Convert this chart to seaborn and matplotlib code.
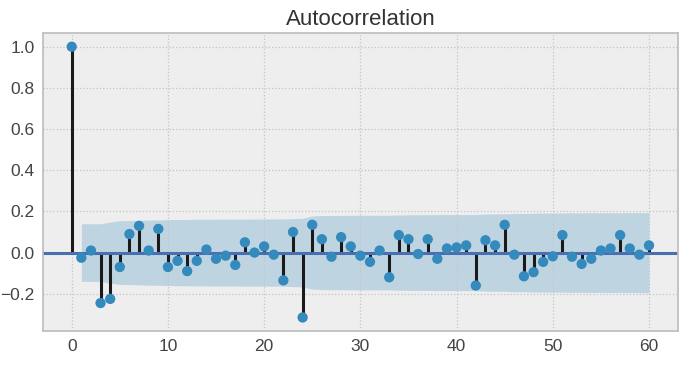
import numpy as np
import pandas as pd
import seaborn as sns
import matplotlib.pyplot as plt

# valores de autocorrelacao (lags 0..60)
lags = list(range(61))
acf_vals = [
    1.0, -0.025, 0.01, -0.245, -0.225, -0.07, 0.09, 0.13, 0.01, 0.115,
    -0.07, -0.04, -0.09, -0.04, 0.015, -0.03, -0.015, -0.06, 0.05, 0.0,
    0.03, -0.01, -0.135, 0.10, -0.315, 0.135, 0.065, -0.02, 0.075, 0.03,
    -0.015, -0.045, 0.01, -0.12, 0.085, 0.065, -0.007, 0.065, -0.03, 0.02,
    0.025, 0.035, -0.16, 0.06, 0.035, 0.135, -0.01, -0.115, -0.095, -0.045,
    -0.018, 0.085, -0.02, -0.055, -0.03, 0.01, 0.02, 0.085, 0.02, -0.01,
    0.035,
]
n_obs = 196  # tamanho da serie estimado pela largura da banda no lag 1

df = pd.DataFrame({"lag": lags, "acf": acf_vals})

# banda de confianca de 95% (formula de Bartlett, como no statsmodels)
r = np.array(acf_vals)
varb = np.zeros(len(r))
varb[1] = 1 / n_obs
varb[2:] = (1 + 2 * np.cumsum(r[1:-1] ** 2)) / n_obs
band = 1.96 * np.sqrt(varb)

plt.style.use("bmh")
plt.rcParams["font.family"] = ["Liberation Sans", "DejaVu Sans"]

fig = plt.figure(figsize=(6.91, 3.68), dpi=100)
ax = fig.add_axes([0.062, 0.101, 0.919, 0.809])
ax.set_facecolor("#eeeeee")

ax.fill_between(df["lag"][1:], -band[1:], band[1:], color="#348ABD", alpha=0.25, linewidth=0)
ax.vlines(df["lag"], 0, df["acf"], colors="#1a1a1a", linewidth=2.2, zorder=2)
ax.axhline(0, color="#4a6fb0", linewidth=2.2, zorder=2)
sns.scatterplot(data=df, x="lag", y="acf", ax=ax, color="#348ABD", s=55,
                edgecolor="none", zorder=3, legend=False)

ax.set_xlim(-3, 63)
ax.set_ylim(-0.38, 1.066)
ax.set_xlabel("")
ax.set_ylabel("")
ax.set_title("Autocorrelation", fontsize=16, color="#333333", pad=6)
ax.tick_params(labelsize=12.5, colors="#444444", length=0, pad=6)
ax.grid(True, linestyle=":", color="#c4c4c4", linewidth=0.9)
for s in ax.spines.values():
    s.set_color("#bcbcbc")
    s.set_linewidth(1.2)

fig.savefig("out.png", dpi=100)
